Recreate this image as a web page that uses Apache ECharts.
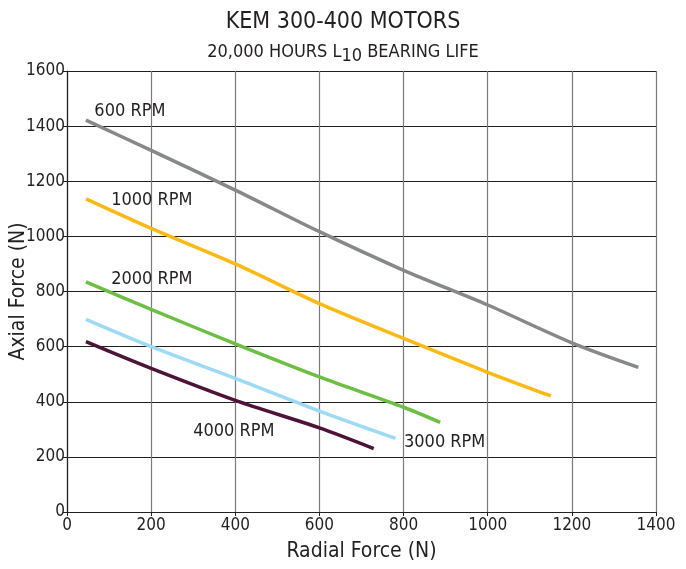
<!DOCTYPE html>
<html>
<head>
<meta charset="utf-8">
<script src="https://cdn.jsdelivr.net/npm/echarts@6/dist/echarts.min.js"></script>
<style>
html,body{margin:0;padding:0;background:#fff;}
#chart{width:686px;height:569px;}
</style>
</head>
<body>
<div id="chart"></div>
<script>
const FONT = "'Liberation Sans Narrow', 'DejaVu Sans Condensed', 'Liberation Sans', sans-serif";

const seriesNames = ['600 RPM', '1000 RPM', '2000 RPM', '3000 RPM', '4000 RPM'];
const seriesColors = ['#87888a', '#fdb913', '#6dbe45', '#9ddaf6', '#4e1338'];

const rpm600 = [[45,1422],[200,1312],[400,1168],[600,1017],[800,877],[1000,751],[1200,614],[1358,525]];
const rpm1000 = [[45,1136],[200,1029],[400,900],[600,756],[800,630],[1000,507],[1150,421]];
const rpm2000 = [[45,835],[200,735],[400,610],[600,490],[800,380],[887,325]];
const rpm3000 = [[45,699],[200,600],[400,485],[600,366],[781,267]];
const rpm4000 = [[45,618],[200,521],[400,405],[600,305],[729,230]];

// label anchor points (data coordinates, left-middle of text)
const labelAnchors = [[65,1454],[105,1132],[105,845],[801,254],[300,294]];

const xTicks = [0,200,400,600,800,1000,1200,1400];
const yTicks = [0,200,400,600,800,1000,1200,1400,1600];

const allData = [rpm600, rpm1000, rpm2000, rpm3000, rpm4000];

const chart = echarts.init(document.getElementById('chart'), null, {renderer:'canvas'});

const series = allData.map((d, i) => ({
  name: seriesNames[i],
  type: 'line',
  data: d,
  smooth: 0.3,
  symbol: 'none',
  lineStyle: {color: seriesColors[i], width: 3.5, cap: 'butt'},
  itemStyle: {color: seriesColors[i]},
  markPoint: {
    symbol: 'circle',
    symbolSize: 0,
    silent: true,
    data: [{
      coord: labelAnchors[i],
      label: {
        show: true,
        formatter: seriesNames[i],
        position: 'right',
        distance: 0,
        color: '#231f20',
        fontSize: 18,
        fontFamily: FONT
      }
    }]
  },
  z: 3
}));

chart.setOption({
  animation: false,
  backgroundColor: '#fff',
  title: {
    text: 'KEM 300-400 MOTORS',
    subtext: '20,000 HOURS L{sub|10} BEARING LIFE',
    left: 'center',
    top: 6,
    itemGap: 5,
    textStyle: {fontFamily: FONT, fontSize: 23, fontWeight: 'normal', color: '#231f20'},
    subtextStyle: {
      fontFamily: FONT, fontSize: 18, color: '#231f20',
      rich: {sub: {fontFamily: FONT, fontSize: 18, color: '#231f20', verticalAlign: 'top', padding: [8,0,0,0]}}
    }
  },
  grid: {left: 67, right: 30, top: 71, bottom: 57, containLabel: false, outerBoundsMode: 'none'},
  xAxis: {
    type: 'value',
    min: 0, max: 1400, interval: 200,
    name: 'Radial Force (N)',
    nameLocation: 'middle',
    nameGap: 29,
    nameMoveOverlap: false,
    nameTextStyle: {fontFamily: FONT, fontSize: 21, color: '#231f20'},
    axisLine: {show: true, onZero: false, lineStyle: {color: '#231f20', width: 1.2}},
    axisTick: {show: true, inside: false, length: 4, lineStyle: {color: '#231f20'}},
    axisLabel: {fontFamily: FONT, fontSize: 17, color: '#231f20', margin: 5,
      formatter: v => xTicks.includes(v) ? String(v) : ''},
    splitLine: {show: true, lineStyle: {color: '#7a7a7a', width: 1.2}}
  },
  yAxis: {
    type: 'value',
    min: 0, max: 1600, interval: 200,
    name: 'Axial Force (N)',
    nameLocation: 'middle',
    nameGap: 38,
    nameRotate: 90,
    nameMoveOverlap: false,
    nameTextStyle: {fontFamily: FONT, fontSize: 21, color: '#231f20'},
    axisLine: {show: true, onZero: false, lineStyle: {color: '#231f20', width: 1.2}},
    axisTick: {show: true, inside: false, length: 4, lineStyle: {color: '#231f20'}},
    axisLabel: {fontFamily: FONT, fontSize: 17, color: '#231f20', margin: 2,
      formatter: v => yTicks.includes(v) ? String(v) : ''},
    splitLine: {show: true, lineStyle: {color: '#231f20', width: 1.2}}
  },
  series: series
});
</script>
</body>
</html>
